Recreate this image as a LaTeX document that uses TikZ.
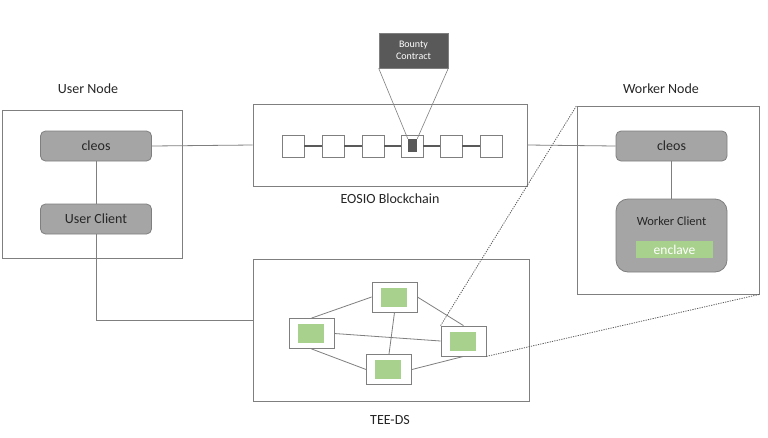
\documentclass[tikz,border=0pt]{standalone}
\usepackage{fontspec}
\setmainfont{Carlito}
\begin{document}
\begin{tikzpicture}[x=1pt,y=-1pt,
  frame/.style={draw=linegray,line width=0.8pt,fill=white,minimum width=#1,inner sep=0pt},
  graybox/.style={draw=linegray,line width=0.8pt,fill=boxgray,rounded corners=5pt,inner sep=0pt,text=textdark,font=\fontsize{14}{16}\selectfont},
  block/.style={draw=linegray,line width=0.8pt,fill=white,minimum width=22pt,minimum height=22pt,inner sep=0pt},
  teenode/.style={draw=linegray,line width=0.8pt,fill=white,minimum width=45pt,minimum height=30pt,inner sep=0pt},
  green/.style={fill=enclgreen,minimum width=26pt,minimum height=19pt,inner sep=0pt},
  label/.style={text=textdark,font=\fontsize{14}{16}\selectfont},
  wire/.style={draw=linegray,line width=0.8pt},
  chainwire/.style={draw=chaingray,line width=1.2pt},
  callout/.style={draw=linegray,line width=0.6pt},
  dots/.style={draw=chaingray,line width=0.8pt,dash pattern=on 1.2pt off 1.2pt},
]
\definecolor{linegray}{HTML}{7F7F7F}
\definecolor{chaingray}{HTML}{595959}
\definecolor{boxgray}{HTML}{A5A5A5}
\definecolor{textdark}{HTML}{262626}
\definecolor{enclgreen}{HTML}{A9D18E}
\definecolor{bountygray}{HTML}{595959}
\useasboundingbox (0,0) rectangle (768,437);
\fill[white] (0,0) rectangle (768,437);

% User node
\node[frame=180pt,minimum height=148pt] (user) at (92,184) {};
\node[label] (userlbl) at (88,89) {User Node};
\node[graybox,minimum width=111pt,minimum height=30pt] (ucleos) at (96,146) {cleos};
\node[graybox,minimum width=111pt,minimum height=30pt] (uclient) at (96,219) {User Client};

% Blockchain
\node[frame=274pt,minimum height=82pt] (chain) at (390,145) {};
\node[label] (chainlbl) at (390,199) {EOSIO Blockchain};
\node[block] (b1) at (293,146) {};
\node[block] (b2) at (333,146) {};
\node[block] (b3) at (373,146) {};
\node[block] (b4) at (412,146) {};
\node[block] (b5) at (451,146) {};
\node[block] (b6) at (491,146) {};
\node[fill=bountygray,minimum width=9pt,minimum height=13pt,inner sep=0pt] (inner) at (412.5,145.5) {};
\draw[chainwire] (b1) -- (b2) (b2) -- (b3) (b3) -- (b4) (b4) -- (b5) (b5) -- (b6);

% Bounty contract
\node[fill=bountygray,draw=linegray,line width=0.6pt,minimum width=69pt,minimum height=35pt,inner sep=0pt,text=white,align=center,font=\fontsize{10}{12.5}\selectfont] (bounty) at (413.5,50.5) {Bounty\\Contract};
\draw[callout] (bounty.south west) -- (inner.north west);
\draw[callout] (bounty.south east) -- (inner.north east);

% Worker node
\node[frame=182pt,minimum height=188pt] (worker) at (668,200) {};
\node[label] (workerlbl) at (661,89) {Worker Node};
\node[graybox,minimum width=111pt,minimum height=30pt] (wcleos) at (671.5,146) {cleos};
\node[graybox,rounded corners=12pt,minimum width=111pt,minimum height=73pt] (wclient) at (671.5,235.5) {};
\node[text=textdark,font=\fontsize{12.5}{15}\selectfont] (wclientlbl) at (671.5,221) {Worker Client};
\node[fill=enclgreen,minimum width=77pt,minimum height=17pt,inner sep=0pt,text=white,font=\fontsize{13.5}{15}\selectfont] (encl) at (674.5,249.5) {enclave};

% TEE-DS
\node[frame=276pt,minimum height=142pt] (tee) at (391,330) {};
\node[label] (teelbl) at (390,420) {TEE-DS};
\node[teenode] (tt) at (394.5,297) {};
\node[teenode] (tl) at (311.5,333.5) {};
\node[teenode] (tr) at (463.5,341) {};
\node[teenode] (tb) at (389,369.5) {};
\foreach \n in {tt,tl,tr,tb} \node[green] (g\n) at ([xshift=-1pt]\n.center) {};
\draw[wire] (tl.north) -- (tt.west);
\draw[wire] (tt.east) -- (tr.north);
\draw[wire] (tl.east) -- (tr.west);
\draw[wire] (tl.south) -- (tb.west);
\draw[wire] (tt.south) -- (tb.north);
\draw[wire] (tb.east) -- (tr.south);

% connectors
\draw[wire] (ucleos.east) -- (chain.west);
\draw[wire] (chain.east) -- (wcleos.west);
\draw[wire] (ucleos.south) -- (uclient.north);
\draw[wire] (wcleos.south) -- (wclient.north);
\coordinate (teein) at ([yshift=10pt]tee.west);
\draw[wire] (uclient.south) |- (teein);

% callout dotted lines
\draw[dots] (tr.north west) -- (worker.north west);
\draw[dots] (tr.south east) -- (worker.south east);
\end{tikzpicture}
\end{document}
